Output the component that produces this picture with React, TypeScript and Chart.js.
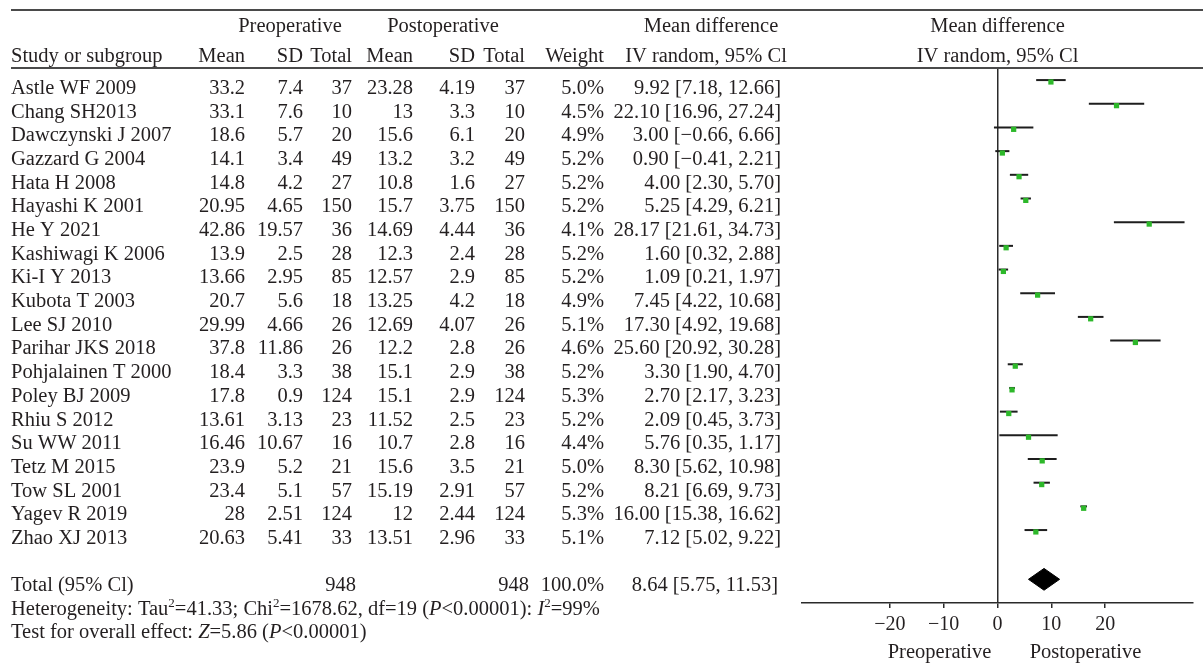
import React, { useEffect, useRef } from "react";
import { Chart, registerables } from "chart.js";

Chart.register(...registerables);

const studies = [
  "Astle WF 2009", "Chang SH2013", "Dawczynski J 2007", "Gazzard G 2004", "Hata H 2008",
  "Hayashi K 2001", "He Y 2021", "Kashiwagi K 2006", "Ki-I Y 2013", "Kubota T 2003",
  "Lee SJ 2010", "Parihar JKS 2018", "Pohjalainen T 2000", "Poley BJ 2009", "Rhiu S 2012",
  "Su WW 2011", "Tetz M 2015", "Tow SL 2001", "Yagev R 2019", "Zhao XJ 2013",
];
const preMean = [33.2, 33.1, 18.6, 14.1, 14.8, 20.95, 42.86, 13.9, 13.66, 20.7, 29.99, 37.8, 18.4, 17.8, 13.61, 16.46, 23.9, 23.4, 28, 20.63];
const preSD = [7.4, 7.6, 5.7, 3.4, 4.2, 4.65, 19.57, 2.5, 2.95, 5.6, 4.66, 11.86, 3.3, 0.9, 3.13, 10.67, 5.2, 5.1, 2.51, 5.41];
const preTotal = [37, 10, 20, 49, 27, 150, 36, 28, 85, 18, 26, 26, 38, 124, 23, 16, 21, 57, 124, 33];
const postMean = [23.28, 13, 15.6, 13.2, 10.8, 15.7, 14.69, 12.3, 12.57, 13.25, 12.69, 12.2, 15.1, 15.1, 11.52, 10.7, 15.6, 15.19, 12, 13.51];
const postSD = [4.19, 3.3, 6.1, 3.2, 1.6, 3.75, 4.44, 2.4, 2.9, 4.2, 4.07, 2.8, 2.9, 2.9, 2.5, 2.8, 3.5, 2.91, 2.44, 2.96];
const postTotal = [37, 10, 20, 49, 27, 150, 36, 28, 85, 18, 26, 26, 38, 124, 23, 16, 21, 57, 124, 33];
const weights = ["5.0%", "4.5%", "4.9%", "5.2%", "5.2%", "5.2%", "4.1%", "5.2%", "5.2%", "4.9%", "5.1%", "4.6%", "5.2%", "5.3%", "5.2%", "4.4%", "5.0%", "5.2%", "5.3%", "5.1%"];
const mdLabels = [
  "9.92 [7.18, 12.66]", "22.10 [16.96, 27.24]", "3.00 [\u22120.66, 6.66]", "0.90 [\u22120.41, 2.21]", "4.00 [2.30, 5.70]",
  "5.25 [4.29, 6.21]", "28.17 [21.61, 34.73]", "1.60 [0.32, 2.88]", "1.09 [0.21, 1.97]", "7.45 [4.22, 10.68]",
  "17.30 [4.92, 19.68]", "25.60 [20.92, 30.28]", "3.30 [1.90, 4.70]", "2.70 [2.17, 3.23]", "2.09 [0.45, 3.73]",
  "5.76 [0.35, 1.17]", "8.30 [5.62, 10.98]", "8.21 [6.69, 9.73]", "16.00 [15.38, 16.62]", "7.12 [5.02, 9.22]",
];
// plotted values (as drawn in the figure)
const effect = [9.92, 22.1, 3.0, 0.9, 4.0, 5.25, 28.17, 1.6, 1.09, 7.45, 17.3, 25.6, 3.3, 2.7, 2.09, 5.76, 8.3, 8.21, 16.0, 7.12];
const ciLow = [7.18, 16.96, -0.66, -0.41, 2.3, 4.29, 21.61, 0.32, 0.21, 4.22, 14.92, 20.92, 1.9, 2.17, 0.45, 0.35, 5.62, 6.69, 15.38, 5.02];
const ciHigh = [12.66, 27.24, 6.66, 2.21, 5.7, 6.21, 34.73, 2.88, 1.97, 10.68, 19.68, 30.28, 4.7, 3.23, 3.73, 11.17, 10.98, 9.73, 16.62, 9.22];
const totalLabel = "Total (95% Cl)";
const totalPre = 948;
const totalPost = 948;
const totalWeight = "100.0%";
const totalMdLabel = "8.64 [5.75, 11.53]";
const totalEffect = 8.64;
const totalLow = 5.75;
const totalHigh = 11.53;
const xTicks = [-20, -10, 0, 10, 20];

const FONT = '"Liberation Serif", "DejaVu Serif", serif';
const TXT = "#231f20";
const TOTAL_ROW = 21;
const FS = 20.5;

type Part = { t: string; it?: boolean; sup?: boolean };

function drawRich(ctx: CanvasRenderingContext2D, parts: Part[], x: number, y: number, size: number) {
  let cx = x;
  for (const p of parts) {
    const s = p.sup ? Math.round(size * 0.65) : size;
    ctx.font = `${p.it ? "italic " : ""}${s}px ${FONT}`;
    ctx.textAlign = "left";
    ctx.fillText(p.t, cx, p.sup ? y - size * 0.4 : y);
    cx += ctx.measureText(p.t).width;
  }
}

const tablePlugin = {
  id: "forestTable",
  afterDraw(chart: any) {
    const ctx: CanvasRenderingContext2D = chart.ctx;
    const ys = chart.scales.y;
    const xs = chart.scales.x;
    const zeroX = xs.getPixelForValue(0);
    const size = FS;
    ctx.save();
    // rules
    ctx.strokeStyle = "#4a4a4a";
    ctx.lineWidth = 2;
    ctx.beginPath();
    ctx.moveTo(11, 10);
    ctx.lineTo(1203, 10);
    ctx.moveTo(11, 68);
    ctx.lineTo(1203, 68);
    ctx.stroke();

    ctx.fillStyle = TXT;
    ctx.textBaseline = "alphabetic";
    ctx.font = `${size}px ${FONT}`;
    const t = (s: string, x: number, y: number, align: CanvasTextAlign) => {
      ctx.textAlign = align;
      ctx.fillText(s, x, y);
    };
    const cols = { pm: 245, psd: 303, pt: 352, qm: 413, qsd: 475, qt: 525, w: 604, md: 781 };
    // header line 1
    t("Preoperative", 290, 32, "center");
    t("Postoperative", 443, 32, "center");
    t("Mean difference", 711, 32, "center");
    t("Mean difference", zeroX, 32, "center");
    // header line 2
    t("Study or subgroup", 11, 62, "left");
    t("Mean", cols.pm, 62, "right");
    t("SD", cols.psd, 62, "right");
    t("Total", cols.pt, 62, "right");
    t("Mean", cols.qm, 62, "right");
    t("SD", cols.qsd, 62, "right");
    t("Total", cols.qt, 62, "right");
    t("Weight", cols.w, 62, "right");
    t("IV random, 95% Cl", 706, 62, "center");
    t("IV random, 95% Cl", zeroX, 62, "center");

    studies.forEach((s, i) => {
      const by = ys.getPixelForValue(i) + 12;
      t(s, 11, by, "left");
      t(String(preMean[i]), cols.pm, by, "right");
      t(String(preSD[i]), cols.psd, by, "right");
      t(String(preTotal[i]), cols.pt, by, "right");
      t(String(postMean[i]), cols.qm, by, "right");
      t(String(postSD[i]), cols.qsd, by, "right");
      t(String(postTotal[i]), cols.qt, by, "right");
      t(weights[i], cols.w, by, "right");
      t(mdLabels[i], cols.md, by, "right");
    });
    const tb = ys.getPixelForValue(TOTAL_ROW) + 12;
    t(totalLabel, 11, tb, "left");
    t(String(totalPre), cols.pt + 4, tb, "right");
    t(String(totalPost), cols.qt + 4, tb, "right");
    t(totalWeight, cols.w, tb, "right");
    t(totalMdLabel, cols.md - 3, tb, "right");

    drawRich(ctx, [
      { t: "Heterogeneity: Tau" }, { t: "2", sup: true }, { t: "=41.33; Chi" }, { t: "2", sup: true },
      { t: "=1678.62, df=19 (" }, { t: "P", it: true }, { t: "<0.00001): " }, { t: "I", it: true },
      { t: "2", sup: true }, { t: "=99%" },
    ], 11, tb + 24, size);
    drawRich(ctx, [
      { t: "Test for overall effect: " }, { t: "Z", it: true }, { t: "=5.86 (" }, { t: "P", it: true }, { t: "<0.00001)" },
    ], 11, tb + 47, size);

    // axis side labels
    ctx.font = `${size}px ${FONT}`;
    t("Preoperative", zeroX - 58, 658, "center");
    t("Postoperative", zeroX + 88, 658, "center");
    ctx.restore();
  },
};

export default function App() {
  const ref = useRef<HTMLCanvasElement | null>(null);
  useEffect(() => {
    if (!ref.current) return;
    const DIAMOND_HALF = 0.46;
    const CI_SHIFT = -0.08;
    const datasets: any[] = [
      {
        type: "scatter",
        data: effect.map((v, i) => ({ x: v, y: i })),
        pointStyle: "rect",
        pointRadius: 3.7,
        backgroundColor: "#2db82a",
        borderWidth: 0,
        order: 0,
      },
      {
        type: "line",
        data: [
          { x: totalLow, y: TOTAL_ROW },
          { x: totalEffect, y: TOTAL_ROW - DIAMOND_HALF },
          { x: totalHigh, y: TOTAL_ROW },
          { x: totalEffect, y: TOTAL_ROW + DIAMOND_HALF },
          { x: totalLow, y: TOTAL_ROW },
        ],
        borderColor: "#000",
        backgroundColor: "#000",
        borderWidth: 1,
        pointRadius: 0,
        fill: "shape",
        tension: 0,
        order: 1,
      },
      ...studies.map((s, i) => ({
        type: "line",
        label: s,
        data: [
          { x: ciLow[i], y: i + CI_SHIFT },
          { x: ciHigh[i], y: i + CI_SHIFT },
        ],
        borderColor: "#1e1e1e",
        borderWidth: 2,
        pointRadius: 0,
        fill: false,
        order: 2,
      })),
    ];
    const chart = new Chart(ref.current, {
      type: "scatter",
      data: { datasets },
      options: {
        responsive: false,
        maintainAspectRatio: false,
        animation: false,
        devicePixelRatio: 1,
        layout: { padding: { left: 802, right: 10, top: 68, bottom: 0 } },
        plugins: { legend: { display: false }, tooltip: { enabled: false } },
        scales: {
          x: {
            type: "linear",
            min: -36.3,
            max: 36.3,
            afterBuildTicks: (s: any) => {
              s.ticks = xTicks.map((v) => ({ value: v }));
            },
            afterFit: (s: any) => {
              s.height = 62;
            },
            ticks: {
              autoSkip: false,
              maxRotation: 0,
              padding: 5,
              color: TXT,
              font: { family: FONT, size: 20 },
              callback: (v: any) => (Number(v) < 0 ? "\u2212" + Math.abs(Number(v)) : String(v)),
            },
            grid: {
              drawOnChartArea: true,
              drawTicks: true,
              tickLength: 5,
              lineWidth: 1.5,
              color: (c: any) => (c.tick && c.tick.value === 0 ? "#2a2a2a" : "rgba(0,0,0,0)"),
              tickColor: "#2a2a2a",
            },
            border: { display: true, color: "#2a2a2a", width: 1.5 },
          },
          y: {
            type: "linear",
            display: false,
            reverse: true,
            min: -0.59,
            max: 22,
          },
        },
      },
      plugins: [tablePlugin],
    } as any);
    return () => chart.destroy();
  }, []);
  return (
    <div style={{ position: "absolute", left: 0, top: 0, width: 1203, height: 665, background: "#fff" }}>
      <canvas ref={ref} width={1203} height={665} style={{ display: "block", width: 1203, height: 665 }} />
    </div>
  );
}
